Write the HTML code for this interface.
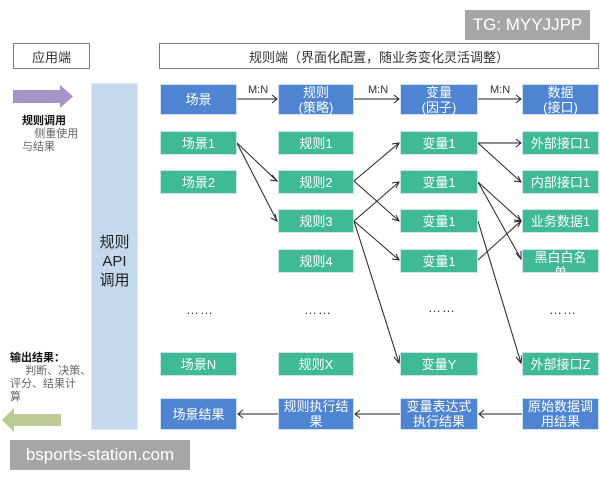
<!DOCTYPE html>
<html><head><meta charset="utf-8"><style>
body{margin:0;width:600px;height:480px;background:#fff;position:relative;overflow:hidden;font-family:"Liberation Sans","Noto Sans CJK SC",sans-serif;}
.b{position:absolute;color:#fff;font-size:13px;display:flex;align-items:center;justify-content:center;text-align:center;line-height:15px;box-sizing:border-box;border:1px solid #cfe3ef;}
.bl{background:#4f84d2;}
.gr{background:#3fba94;}
.t{position:absolute;font-size:12px;color:#333;}
.dots{position:absolute;font-size:13px;color:#333;letter-spacing:1px;}
</style></head><body>
<div style="position:absolute;left:465px;top:10px;width:125px;height:30px;background:#a6a6a6;color:#fff;font-size:17px;display:flex;align-items:center;justify-content:center;">TG: MYYJJPP</div>
<div style="position:absolute;left:13px;top:43px;width:77px;height:26px;border:1px solid #777;box-sizing:border-box;font-size:13px;display:flex;align-items:center;justify-content:center;color:#333;">应用端</div>
<div style="position:absolute;left:159px;top:43px;width:440px;height:26px;border:1px solid #777;box-sizing:border-box;font-size:13px;display:flex;align-items:center;justify-content:center;color:#333;">规则端（界面化配置，随业务变化灵活调整）</div>
<div style="position:absolute;left:91px;top:83px;width:47px;height:347px;background:#c5d9ee;border:1px solid #dde8f3;box-sizing:border-box;"></div>
<div style="position:absolute;left:91px;top:233px;width:47px;text-align:center;font-size:15px;line-height:19px;color:#222;">规则<br>API<br>调用</div>
<svg style="position:absolute;left:0;top:0" width="600" height="480">
<polygon points="13,90 60,90 60,85 73,96.5 60,108 60,103 13,103" fill="#a793c6"/>
<polygon points="61,414 14,414 14,408 2,420 14,432 14,426 61,426" fill="#bccb94"/>
<g stroke="#222" stroke-width="1" fill="none">
<line x1="237" y1="99" x2="277" y2="99"/><polyline points="272,95 277,99 272,103"/>
<line x1="354" y1="99" x2="399" y2="99"/><polyline points="394,95 399,99 394,103"/>
<line x1="478" y1="99" x2="521" y2="99"/><polyline points="516,95 521,99 516,103"/>
<line x1="237" y1="143" x2="277" y2="181"/>
<line x1="237" y1="143" x2="277" y2="221"/>
<line x1="354" y1="181" x2="399" y2="143"/>
<line x1="354" y1="181" x2="399" y2="221"/>
<line x1="354" y1="221" x2="399" y2="182"/>
<line x1="354" y1="221" x2="399" y2="260"/>
<line x1="354" y1="221" x2="399" y2="363"/>
<line x1="478" y1="143" x2="521" y2="143"/>
<line x1="478" y1="143" x2="521" y2="182"/>
<line x1="478" y1="182" x2="521" y2="221"/>
<line x1="478" y1="182" x2="521" y2="259"/>
<line x1="478" y1="221" x2="521" y2="363"/>
<line x1="478" y1="260" x2="521" y2="221"/>
<line x1="278" y1="414" x2="238" y2="414"/><polyline points="243,410 238,414 243,418"/>
<line x1="400" y1="414" x2="355" y2="414"/><polyline points="360,410 355,414 360,418"/>
<line x1="522" y1="414" x2="479" y2="414"/><polyline points="484,410 479,414 484,418"/>
</g>
<g fill="none" stroke="#222">
<polyline points="272,175 277,181 270,180"/>
<polyline points="275,214 277,221 271,218"/>
<polyline points="392,144 399,143 396,149"/>
<polyline points="392,219 399,221 396,215"/>
<polyline points="392,183 399,182 396,188"/>
<polyline points="392,259 399,260 396,254"/>
<polyline points="394,357 399,363 400,355"/>
<polyline points="516,139 521,143 516,147"/>
<polyline points="514,181 521,182 518,176"/>
<polyline points="514,220 521,221 518,215"/>
<polyline points="516,253 521,259 521,251"/>
<polyline points="516,357 521,363 522,355"/>
<polyline points="514,222 521,221 518,227"/>
</g>
</svg>
<div class="t" style="left:248px;top:84px;font-size:11px;">M:N</div>
<div class="t" style="left:368px;top:84px;font-size:11px;">M:N</div>
<div class="t" style="left:490px;top:84px;font-size:11px;">M:N</div>

<div class="b bl" style="left:160px;top:84px;width:77px;height:31px;">场景</div>
<div class="b bl" style="left:278px;top:84px;width:76px;height:31px;">规则<br>(策略)</div>
<div class="b bl" style="left:400px;top:84px;width:78px;height:31px;">变量<br>(因子)</div>
<div class="b bl" style="left:522px;top:84px;width:77px;height:31px;">数据<br>(接口)</div>

<div class="b gr" style="left:160px;top:131px;width:77px;height:24px;">场景1</div>
<div class="b gr" style="left:160px;top:170px;width:77px;height:24px;">场景2</div>
<div class="b gr" style="left:160px;top:352px;width:77px;height:24px;">场景N</div>

<div class="b gr" style="left:278px;top:131px;width:76px;height:24px;">规则1</div>
<div class="b gr" style="left:278px;top:170px;width:76px;height:24px;">规则2</div>
<div class="b gr" style="left:278px;top:209px;width:76px;height:24px;">规则3</div>
<div class="b gr" style="left:278px;top:249px;width:76px;height:24px;">规则4</div>
<div class="b gr" style="left:278px;top:352px;width:76px;height:24px;">规则X</div>

<div class="b gr" style="left:400px;top:131px;width:78px;height:24px;">变量1</div>
<div class="b gr" style="left:400px;top:170px;width:78px;height:24px;">变量1</div>
<div class="b gr" style="left:400px;top:209px;width:78px;height:24px;">变量1</div>
<div class="b gr" style="left:400px;top:249px;width:78px;height:24px;">变量1</div>
<div class="b gr" style="left:400px;top:352px;width:78px;height:24px;">变量Y</div>

<div class="b gr" style="left:522px;top:131px;width:77px;height:24px;">外部接口1</div>
<div class="b gr" style="left:522px;top:170px;width:77px;height:24px;">内部接口1</div>
<div class="b gr" style="left:522px;top:209px;width:77px;height:24px;">业务数据1</div>
<div class="b gr" style="left:522px;top:249px;width:77px;height:24px;overflow:hidden;align-items:flex-start;padding-top:0;">黑白白名<br>单</div>
<div class="b gr" style="left:522px;top:352px;width:77px;height:24px;">外部接口Z</div>

<div class="b bl" style="left:160px;top:398px;width:77px;height:32px;">场景结果</div>
<div class="b bl" style="left:278px;top:398px;width:76px;height:32px;">规则执行结果</div>
<div class="b bl" style="left:400px;top:398px;width:78px;height:32px;">变量表达式<br>执行结果</div>
<div class="b bl" style="left:522px;top:398px;width:77px;height:32px;">原始数据调<br>用结果</div>

<div class="dots" style="left:186px;top:302px;">……</div>
<div class="dots" style="left:304px;top:302px;">……</div>
<div class="dots" style="left:428px;top:300px;">……</div>
<div class="dots" style="left:549px;top:302px;">……</div>

<div class="t" style="left:22px;top:115px;font-size:11px;line-height:13px;white-space:nowrap;"><b style="color:#111">规则调用</b><br><span style="color:#666">&nbsp;&nbsp;&nbsp;&nbsp;侧重使用<br>与结果</span></div>
<div class="t" style="left:10px;top:352px;font-size:11px;line-height:13px;white-space:nowrap;"><b style="color:#111">输出结果：</b><br><span style="color:#666">&nbsp;&nbsp;&nbsp;&nbsp;&nbsp;判断、决策、<br>评分、结果计<br>算</span></div>

<div style="position:absolute;left:10px;top:440px;width:180px;height:30px;background:#a6a6a6;color:#fff;font-size:17px;display:flex;align-items:center;justify-content:center;">bsports-station.com</div>
</body></html>
